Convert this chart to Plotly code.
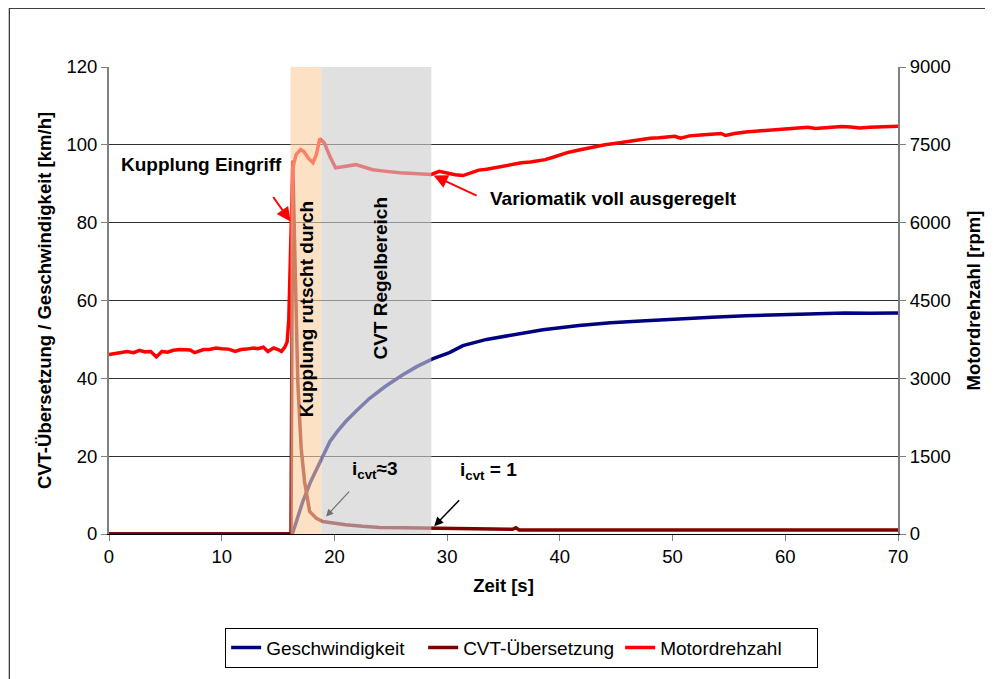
import plotly.graph_objects as go

# --- data ---
# engine speed (right axis, rpm)
t_rpm = [0, 0.5, 1.0, 1.6, 2.2, 2.7, 3.2, 3.7, 4.2, 4.7, 5.2, 5.7, 6.3, 6.8, 7.2, 7.6, 8.0, 8.4, 8.9, 9.5,
         10.0, 10.6, 11.2, 11.7, 12.2, 12.8, 13.2, 13.7, 14.1, 14.6, 15.0, 15.3, 15.6, 15.8, 15.95, 16.1, 16.3,
         16.6, 17.0, 17.3, 17.7, 18.1, 18.4, 18.7, 19.1, 19.6, 20.1, 20.6, 21.2, 21.9, 22.6, 23.4, 24.2, 25.0,
         25.8, 26.6, 27.4, 28.0, 28.6, 29.3, 30.0, 30.7, 31.4, 32.1, 32.8, 33.5, 34.3, 35.0, 35.8, 36.6, 37.4,
         38.0, 38.7, 39.4, 40.1, 40.8, 41.6, 42.4, 43.2, 44.0, 45.0, 46.1, 47.0, 48.0, 48.8, 49.5, 50.2, 50.7,
         51.5, 52.5, 53.5, 54.3, 54.7, 55.5, 56.5, 57.5, 58.3, 59.1, 60.0, 61.0, 62.0, 62.7, 63.5, 64.3, 65.0,
         65.8, 66.6, 67.5, 68.3, 69.0, 70.0]
rpm = [3458, 3473, 3495, 3518, 3495, 3540, 3510, 3518, 3413, 3518, 3503, 3540, 3555, 3548, 3548, 3495, 3525,
       3555, 3555, 3585, 3570, 3563, 3518, 3555, 3563, 3585, 3570, 3600, 3518, 3585, 3555, 3518, 3600, 3698,
       4125, 5625, 7050, 7313, 7410, 7365, 7238, 7155, 7313, 7620, 7538, 7275, 7058, 7073, 7095, 7118, 7073,
       7020, 6998, 6975, 6960, 6953, 6945, 6938, 6930, 6990, 6953, 6923, 6908, 6968, 7013, 7028, 7065, 7080,
       7118, 7155, 7170, 7193, 7215, 7260, 7313, 7358, 7395, 7433, 7470, 7500, 7530, 7568, 7598, 7628, 7635,
       7650, 7665, 7628, 7673, 7688, 7703, 7718, 7680, 7718, 7748, 7763, 7785, 7793, 7808, 7823, 7838, 7815,
       7830, 7845, 7853, 7845, 7823, 7838, 7845, 7838, 7860]

# vehicle speed (left axis, km/h)
t_speed = [0, 16.2, 16.3, 16.7, 17.2, 17.9, 18.8, 19.6, 20.3, 21.0, 22.0, 23.1, 24.5, 26.0, 27.3, 28.7, 30.2,
           31.4, 33.5, 35.8, 38.5, 41.7, 44.5, 47.6, 50.5, 53.5, 56.5, 59.4, 62.3, 65.3, 67.5, 70]
speed = [0, 0, 0.3, 4.0, 8.4, 13.5, 18.7, 23.8, 26.5, 28.9, 31.8, 34.8, 37.9, 40.8, 43.0, 45.0, 46.6,
         48.4, 50.0, 51.2, 52.5, 53.6, 54.3, 54.8, 55.3, 55.7, 56.1, 56.4, 56.6, 56.8, 56.7, 56.8]

# CVT ratio (left axis)
t_ratio = [0, 16.15, 16.3, 16.46, 16.75, 17.05, 17.35, 17.8, 18.4, 18.96, 20.0, 21.0, 22.5, 24.0, 26.0,
           28.7, 29.0, 33.0, 35.8, 36.1, 36.4, 40, 50, 60, 70]
ratio = [0, 0, 96, 73, 39, 22, 13.5, 5.8, 4.0, 3.2, 2.7, 2.4, 2.0, 1.7, 1.6,
         1.5, 1.3, 1.25, 1.2, 1.6, 1.0, 1.0, 1.0, 1.0, 1.0]

# phases (shaded)
phase_start = [16.1, 18.85]
phase_end = [18.85, 28.6]
phase_fill = ['#FCCFA2', '#CDCDCD']

FONT = 'Liberation Sans, Arial, sans-serif'

fig = go.Figure()
fig.add_trace(go.Scatter(x=t_speed, y=speed, mode='lines', name='Geschwindigkeit',
                         line=dict(color='#000080', width=3.5)))
fig.add_trace(go.Scatter(x=t_ratio, y=ratio, mode='lines', name='CVT-Übersetzung',
                         line=dict(color='#800000', width=3.5)))
fig.add_trace(go.Scatter(x=t_rpm, y=rpm, mode='lines', name='Motordrehzahl', yaxis='y2',
                         line=dict(color='#FF0000', width=3.5)))

# shaded phases drawn over the curves
for x0, x1, c in zip(phase_start, phase_end, phase_fill):
    fig.add_shape(type='rect', xref='x', yref='paper', x0=x0, x1=x1, y0=0, y1=1,
                  fillcolor=c, opacity=0.62, line=dict(width=0), layer='above')

# outer frame
fig.add_shape(type='rect', xref='paper', yref='paper', x0=-0.1264, x1=1.5, y0=-0.6, y1=1.1258,
              line=dict(color='black', width=1), fillcolor='rgba(0,0,0,0)', layer='below')

txt = dict(family=FONT, size=19, color='black')
arr = dict(family=FONT, size=2, color='black')
fig.add_annotation(x=8.2, y=95, text='<b>Kupplung Eingriff</b>', showarrow=False, font=txt)
fig.add_annotation(x=16.1, y=80.3, ax=-19, ay=-27, text=' ', showarrow=True, font=arr,
                   arrowhead=2, arrowsize=1.4, arrowwidth=2, arrowcolor='#FF0000')
fig.add_annotation(x=44.8, y=86.2, text='<b>Variomatik voll ausgeregelt</b>', showarrow=False, font=txt)
fig.add_annotation(x=28.8, y=92.1, ax=45, ay=21, text=' ', showarrow=True, font=arr,
                   arrowhead=2, arrowsize=1.4, arrowwidth=2, arrowcolor='#FF0000')
fig.add_annotation(x=17.5, y=57.8, text='<b>Kupplung rutscht durch</b>', textangle=-90,
                   showarrow=False, font=txt)
fig.add_annotation(x=24.1, y=65.8, text='<b>CVT Regelbereich</b>', textangle=-90,
                   showarrow=False, font=txt)
fig.add_annotation(x=23.6, y=16.4, text='<b>i<sub>cvt</sub>≈3</b>', showarrow=False, font=txt)
fig.add_annotation(x=19.26, y=4.5, ax=25, ay=-27, text=' ', showarrow=True, font=arr,
                   arrowhead=2, arrowsize=1.2, arrowwidth=1.2, arrowcolor='#707070')
fig.add_annotation(x=33.7, y=16.1, text='<b>i<sub>cvt</sub> = 1</b>', showarrow=False, font=txt)
fig.add_annotation(x=28.85, y=2.0, ax=27, ay=-28, text=' ', showarrow=True, font=arr,
                   arrowhead=2, arrowsize=1.2, arrowwidth=1.5, arrowcolor='black')

tickfont = dict(family=FONT, size=18.5, color='black')
titlefont = dict(family=FONT, size=18.5, color='black')
fig.update_layout(
    width=985, height=671,
    margin=dict(l=101, r=93, t=59, b=143),
    plot_bgcolor='white', paper_bgcolor='white',
    font=dict(family=FONT, color='black'),
    xaxis=dict(range=[0, 70], dtick=10, ticks='outside', ticklen=6, tickcolor='#808080',
               showline=True, linecolor='black', linewidth=1, showgrid=False, zeroline=False,
               tickfont=tickfont, title=dict(text='<b>Zeit [s]</b>', font=titlefont, standoff=12)),
    yaxis=dict(range=[0, 120], dtick=20, ticks='outside', ticklen=6, tickcolor='#808080',
               showline=True, linecolor='#808080', linewidth=2, showgrid=True,
               gridcolor='#303030', gridwidth=1, zeroline=False, tickfont=tickfont,
               title=dict(text='<b>CVT-Übersetzung / Geschwindigkeit [km/h]</b>', font=titlefont,
                          standoff=10)),
    yaxis2=dict(range=[0, 9000], dtick=1500, overlaying='y', side='right', ticks='outside',
                ticklen=6, tickcolor='#808080', showline=True, linecolor='#808080', linewidth=2,
                showgrid=False, zeroline=False, tickfont=tickfont,
                title=dict(text='<b>Motordrehzahl [rpm]</b>', font=titlefont, standoff=17)),
    legend=dict(orientation='h', x=0.523, xanchor='center', y=-0.2004, yanchor='top',
                bordercolor='black', borderwidth=1, bgcolor='white',
                entrywidth=152, entrywidthmode='pixels',
                font=dict(family=FONT, size=19, color='black')),
    showlegend=True,
)

fig.write_html("out.html")
